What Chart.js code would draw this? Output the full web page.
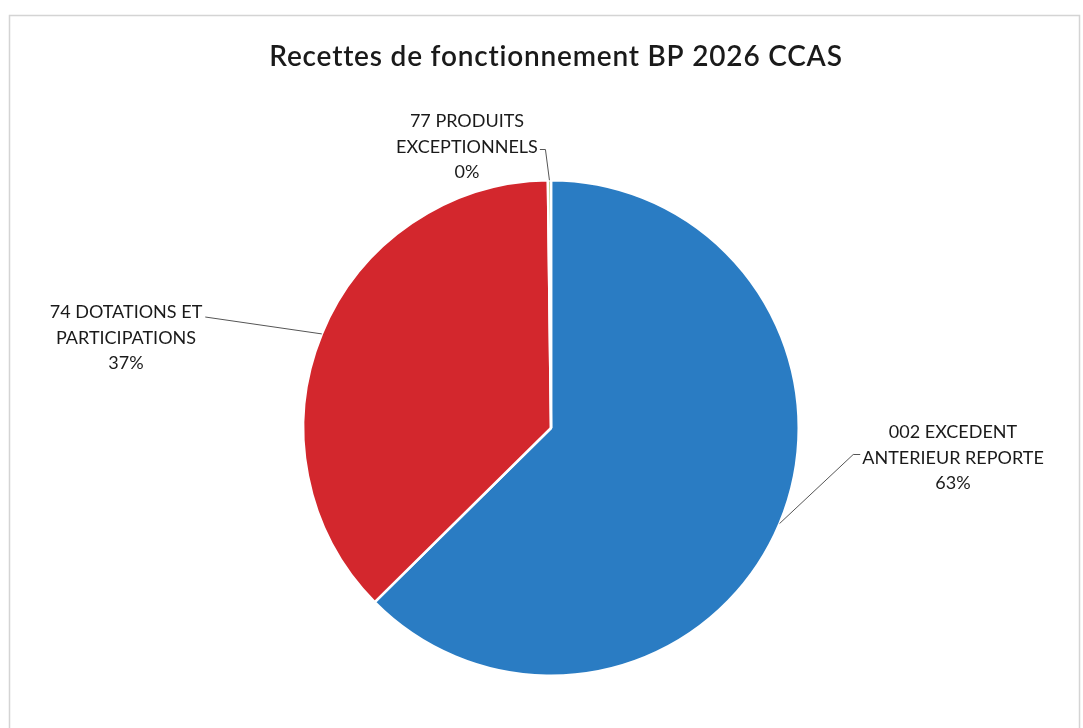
<!DOCTYPE html>
<html lang="fr">
<head>
    <meta charset="UTF-8">
    <title>Recettes de fonctionnement BP 2026 CCAS</title>
    <script src="https://cdn.jsdelivr.net/npm/chart.js"></script>
    <style>
        html, body { margin: 0; padding: 0; background: #ffffff; }
        .chart-box { position: relative; width: 1083px; height: 728px; }
    </style>
</head>
<body>
    <div class="chart-box">
        <canvas id="pieChart"></canvas>
    </div>

    <script>
        // data (share of total, %)
        const categories = ['002 EXCEDENT ANTERIEUR REPORTE', '74 DOTATIONS ET PARTICIPATIONS', '77 PRODUITS EXCEPTIONNELS'];
        const labelLines = [
            ['002 EXCEDENT', 'ANTERIEUR REPORTE'],
            ['74 DOTATIONS ET', 'PARTICIPATIONS'],
            ['77 PRODUITS', 'EXCEPTIONNELS']
        ];
        const values = [62.6, 37.2, 0.2];
        const colors = ['#2a7cc3', '#d3272d', '#8fb04a'];

        const TITLE = 'Recettes de fonctionnement BP 2026 CCAS';
        const FONT = 'Lato, "Open Sans", sans-serif';
        const LINE_H = 25.5;

        // label block: centre x, baseline of first line, which line the leader leaves from
        const labelLayout = [
            { x: 953, y: 438, line: 1, side: 'left', dy: -9, hook: 7 },
            { x: 126, y: 318, line: 0, side: 'right', dy: -1, hook: 0 },
            { x: 467, y: 127, line: 1, side: 'right', dy: -3, hook: 0 }
        ];

        const total = values.reduce((a, b) => a + b, 0);

        const decorPlugin = {
            id: 'decor',
            beforeDraw(chart) {
                const ctx = chart.ctx;
                ctx.save();
                ctx.strokeStyle = '#d4d4d4';
                ctx.lineWidth = 1.5;
                ctx.strokeRect(9.5, 15.5, 1070, 740);
                ctx.restore();
            },
            afterDraw(chart) {
                const ctx = chart.ctx;
                ctx.save();
                ctx.fillStyle = '#1a1a1a';
                ctx.font = '600 28px ' + FONT;
                ctx.letterSpacing = '0.8px';
                ctx.textAlign = 'center';
                ctx.textBaseline = 'alphabetic';
                ctx.fillText(TITLE, 556, 66);
                ctx.letterSpacing = '0px';

                const arcs = chart.getDatasetMeta(0).data;
                arcs.forEach((arc, i) => {
                    const lay = labelLayout[i];
                    const mid = (arc.startAngle + arc.endAngle) / 2;
                    const ax = arc.x + Math.cos(mid) * arc.outerRadius;
                    const ay = arc.y + Math.sin(mid) * arc.outerRadius;

                    ctx.font = '18px ' + FONT;
                    const lines = labelLines[i].concat([Math.round(values[i] / total * 100) + '%']);

                    // leader line leaves from the end of one text line
                    const w = ctx.measureText(lines[lay.line]).width;
                    const ly = lay.y + lay.line * LINE_H + lay.dy;
                    ctx.strokeStyle = '#555555';
                    ctx.lineWidth = 1;
                    ctx.beginPath();
                    if (lay.side === 'left') {
                        const sx = lay.x - w / 2 - 2;
                        ctx.moveTo(sx, ly);
                        ctx.lineTo(sx - lay.hook, ly);
                    } else if (i === 2) {
                        const sx = lay.x + w / 2 + 2;
                        ctx.moveTo(sx, ly);
                        ctx.lineTo(ax - 4, ly);
                    } else {
                        ctx.moveTo(lay.x + w / 2 + 3, ly);
                    }
                    ctx.lineTo(ax, ay);
                    ctx.stroke();

                    ctx.fillStyle = '#1a1a1a';
                    lines.forEach((t, k) => ctx.fillText(t, lay.x, lay.y + k * LINE_H));
                });
                ctx.restore();
            }
        };

        new Chart(document.getElementById('pieChart'), {
            type: 'pie',
            data: {
                labels: categories,
                datasets: [{
                    data: values,
                    backgroundColor: colors,
                    borderColor: '#ffffff',
                    borderWidth: 2.5
                }]
            },
            options: {
                responsive: true,
                maintainAspectRatio: false,
                animation: false,
                layout: { padding: { top: 179, bottom: 51, left: 19, right: 0 } },
                plugins: {
                    legend: { display: false },
                    title: { display: false },
                    tooltip: { enabled: false }
                }
            },
            plugins: [decorPlugin]
        });
    </script>
</body>
</html>
